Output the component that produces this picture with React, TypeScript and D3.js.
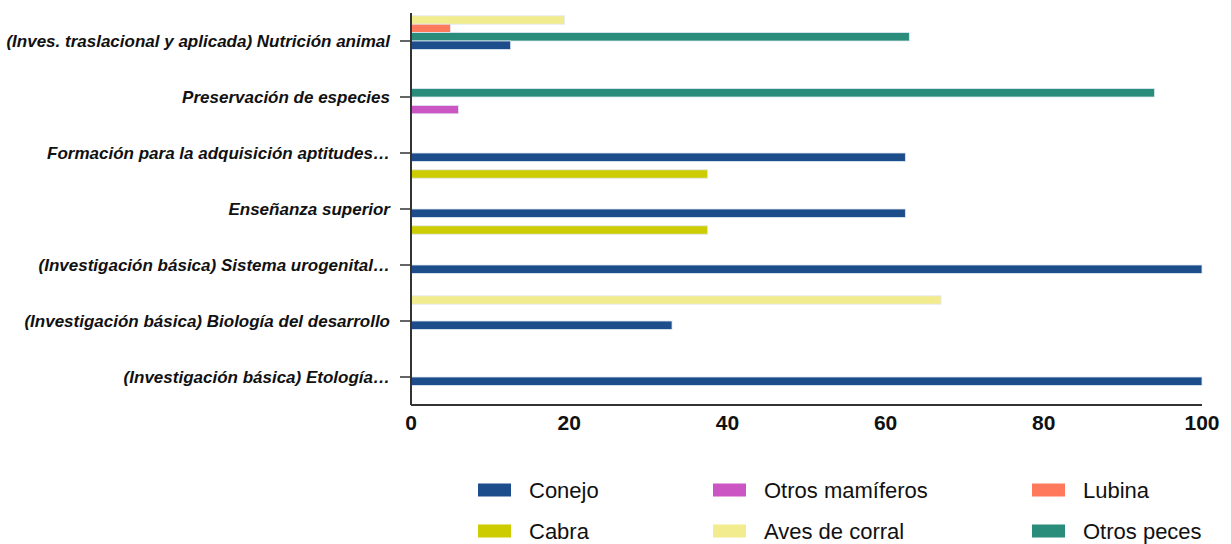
import React from "react";
import * as d3 from "d3";

const categories = [
  "(Inves. traslacional y aplicada) Nutrición animal",
  "Preservación de especies",
  "Formación para la adquisición aptitudes…",
  "Enseñanza superior",
  "(Investigación básica) Sistema urogenital…",
  "(Investigación básica) Biología del desarrollo",
  "(Investigación básica) Etología…",
];

// series order within each group, top to bottom
const seriesNames = ["Aves de corral", "Lubina", "Otros peces", "Conejo", "Otros mamíferos", "Cabra"];
const seriesColors = ["#f2ec8e", "#ff7a5c", "#2a8c7a", "#1e4d8b", "#cc55c4", "#cccc00"];

const avesDeCorral = [19.4, 0, 0, 0, 0, 67, 0];
const lubina = [5, 0, 0, 0, 0, 0, 0];
const otrosPeces = [63, 94, 0, 0, 0, 0, 0];
const conejo = [12.6, 0, 62.5, 62.5, 100, 33, 100];
const otrosMamiferos = [0, 6, 0, 0, 0, 0, 0];
const cabra = [0, 0, 37.5, 37.5, 0, 0, 0];

const seriesValues = [avesDeCorral, lubina, otrosPeces, conejo, otrosMamiferos, cabra];

const xTicks = [0, 20, 40, 60, 80, 100];

const legendOrder = [
  ["Conejo", "Otros mamíferos", "Lubina"],
  ["Cabra", "Aves de corral", "Otros peces"],
];

export default function App() {
  const W = 1231, H = 544;
  const left = 411, right = 1202, top = 13, bottom = 405;
  const x = d3.scaleLinear().domain([0, 100]).range([left, right]);
  const y = d3.scaleBand().domain(categories).range([top, bottom]).paddingInner(0.1).paddingOuter(0.05);
  const inner = d3.scaleBand().domain(seriesNames).range([0, y.bandwidth()]);
  const colorOf = (n: string) => seriesColors[seriesNames.indexOf(n)];

  const legendX = [478, 713, 1032];
  const legendY = [490, 531];

  return (
    <svg width={W} height={H} style={{ position: "absolute", left: 0, top: 0, background: "#fff" }}
      fontFamily="'Liberation Sans', Arial, Helvetica, sans-serif">
      {categories.map((c, ci) =>
        seriesNames.map((s, si) => {
          const v = seriesValues[si][ci];
          if (!v) return null;
          return (
            <rect key={c + s} x={x(0)} y={(y(c) as number) + (inner(s) as number)}
              width={x(v) - x(0)} height={inner.bandwidth()}
              fill={seriesColors[si]} stroke="#dfe8f2" strokeWidth={0.8} />
          );
        })
      )}
      {/* y axis */}
      <line x1={left} x2={left} y1={top} y2={bottom} stroke="#333" strokeWidth={2} />
      {categories.map((c) => {
        const cy = (y(c) as number) + y.bandwidth() / 2;
        return (
          <g key={c}>
            <line x1={left - 11} x2={left} y1={cy} y2={cy} stroke="#333" strokeWidth={1.5} />
            <text x={390} y={cy} dy="0.35em" textAnchor="end" fontSize={17} fontWeight="bold"
              fontStyle="italic" fill="#111">{c}</text>
          </g>
        );
      })}
      {/* x axis */}
      <line x1={left} x2={right} y1={bottom} y2={bottom} stroke="#333" strokeWidth={2} />
      {xTicks.map((t) => (
        <text key={t} x={x(t)} y={430} textAnchor="middle" fontSize={21} fontWeight="bold" fill="#111">{t}</text>
      ))}
      {/* legend */}
      {legendOrder.map((row, ri) =>
        row.map((n, ci) => (
          <g key={n}>
            <rect x={legendX[ci]} y={legendY[ri] - 6.5} width={33} height={13} fill={colorOf(n)} />
            <text x={legendX[ci] + 51} y={legendY[ri]} dy="0.35em" fontSize={22} fill="#111">{n}</text>
          </g>
        ))
      )}
    </svg>
  );
}
